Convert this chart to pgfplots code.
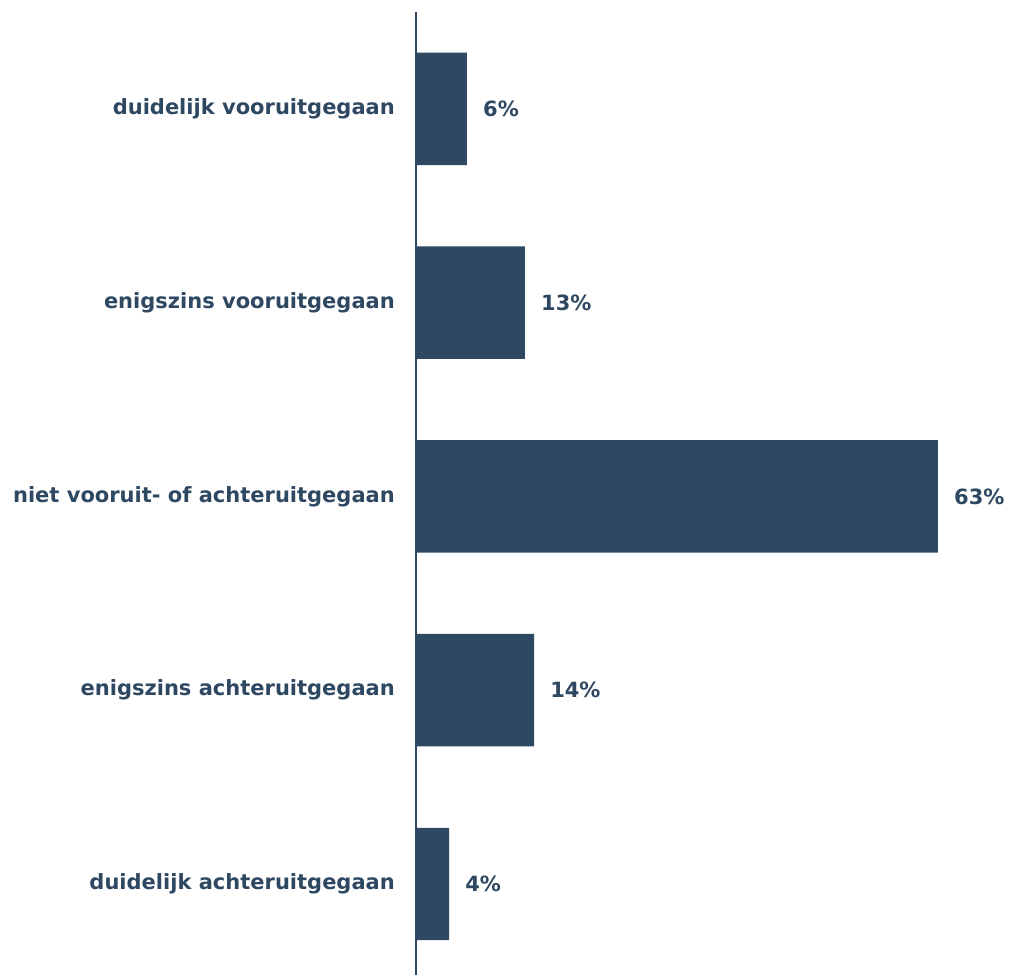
\documentclass[border=0pt]{standalone}
\usepackage{pgfplots}
\pgfplotsset{compat=1.18}
\usepackage{fontspec}
\setmainfont{DejaVu Sans}
\definecolor{barblue}{HTML}{2E4862}

\begin{document}
\begin{tikzpicture}
\useasboundingbox (-416bp,0) rectangle (596bp,975bp);
\begin{axis}[
    scale only axis,
    width=522bp,
    height=963bp,
    xmin=0, xmax=63,
    ymin=-0.5, ymax=4.47,
    y dir=reverse,
    axis x line=none,
    axis y line=left,
    y axis line style={-, color=barblue, line width=1.1pt},
    ytick={0,1,2,3,4},
    yticklabels={duidelijk vooruitgegaan, enigszins vooruitgegaan, niet vooruit- of achteruitgegaan, enigszins achteruitgegaan, duidelijk achteruitgegaan},
    major tick length=0pt,
    yticklabel style={font=\fontsize{21bp}{25bp}\selectfont\bfseries, text=barblue, inner sep=0pt, xshift=-21bp},
    xbar,
    bar width=0.58,
    nodes near coords={\pgfmathprintnumber[fixed, precision=0, assume math mode=true]{\pgfplotspointmeta}\%},
    nodes near coords style={font=\fontsize{21bp}{25bp}\selectfont\bfseries, text=barblue, anchor=west, inner sep=0pt, xshift=16bp},
]
\addplot[fill=barblue, draw=none] coordinates {
    (6.15,0)
    (13.15,1)
    (63,2)
    (14.25,3)
    (4,4)
};
\end{axis}
\end{tikzpicture}
\end{document}
